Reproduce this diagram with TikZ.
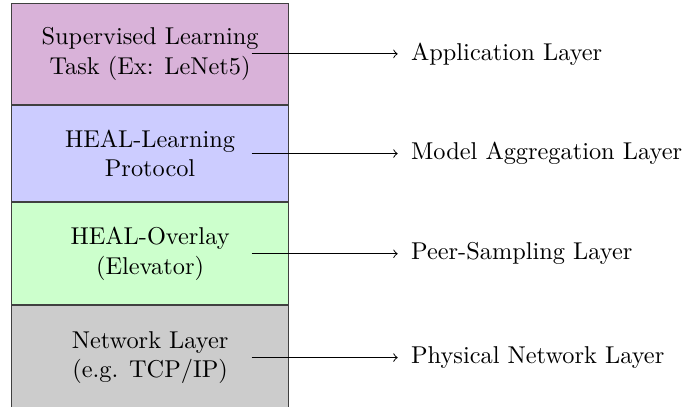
\documentclass[tikz,border=0pt]{standalone}
\usetikzlibrary{arrows, positioning}

\begin{document}
\begin{tikzpicture}[
						layer/.style={draw=black!75,rectangle,minimum width=4cm,minimum height=1.45cm,align=center,inner sep=0pt},
						every edge/.append style={draw, ->, shorten > = 2pt}]
		\useasboundingbox (0,0) rectangle (9.89,-5.863);
		\node (app) [layer,fill=violet!30,minimum height=1.455cm,anchor=north west] at (0.16,-0.043) {Supervised Learning\\Task (Ex: LeNet5)};
		\node (learn) [layer,fill=blue!20,minimum height=1.395cm,below=0pt of app] {HEAL-Learning\\Protocol};
		\node (overlay) [layer,fill=green!20,minimum height=1.47cm,below=0pt of learn] {HEAL-Overlay\\(Elevator)};
		\node (net) [layer,fill=gray!40,minimum height=1.5cm,below=0pt of overlay] {Network Layer\\(e.g. TCP/IP)};

		% start points of the arrows, right of the box texts
		\coordinate (app_out) at ([xshift=1.465cm]app.center);
		\coordinate (learn_out) at ([xshift=1.465cm]learn.center);
		\coordinate (overlay_out) at ([xshift=1.465cm]overlay.center);
		\coordinate (net_out) at ([xshift=1.465cm]net.center);

		\node (app_lbl) [right=2.18cm of app_out] {Application Layer};
		\node (learn_lbl) [right=2.18cm of learn_out] {Model Aggregation Layer};
		\node (overlay_lbl) [right=2.18cm of overlay_out] {Peer-Sampling Layer};
		\node (net_lbl) [right=2.18cm of net_out] {Physical Network Layer};

		\path 	(app_out) edge (app_lbl)
				(learn_out) edge (learn_lbl)
				(overlay_out) edge (overlay_lbl)
				(net_out) edge (net_lbl);
	\end{tikzpicture}
\end{document}
